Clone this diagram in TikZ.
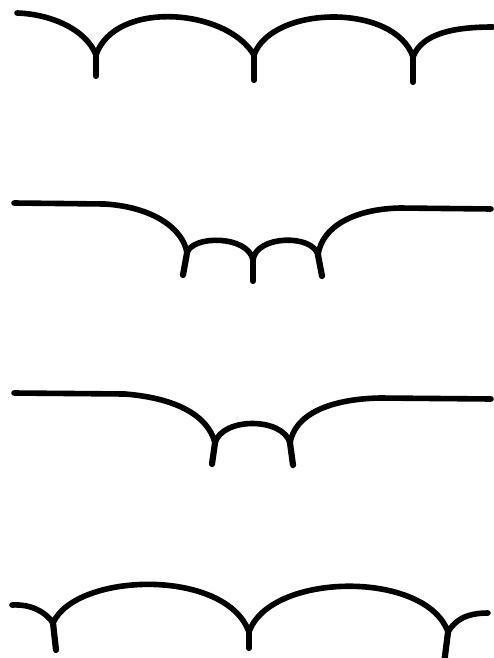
\documentclass[tikz,border=0pt]{standalone}
\usepackage{tikz}

\begin{document}
\begin{tikzpicture}[x=1pt,y=-1pt,
  arche/.style={draw=black, line width=5.6pt, line cap=round, line join=round},
  tige/.style={arche, line width=6.2pt}]
  \useasboundingbox (0,0) rectangle (493,658);
  % rang 1 : trois pointes
  \coordinate (P11) at (96,55);
  \coordinate (P12) at (254,55);
  \coordinate (P13) at (413,57);
  \draw[arche] (17,13) .. controls (50,14) and (86,29) .. (P11)
    .. controls (115,0) and (226,8) .. (P12)
    .. controls (272,5) and (395,3) .. (P13)
    .. controls (422,33) and (455,27) .. (493,27);
  \draw[tige] (P11) -- (96,76);
  \draw[tige] (P12) -- (254,80);
  \draw[tige] (P13) -- (413,82);
  % rang 2 : deux petites arches
  \coordinate (P21) at (187,253);
  \coordinate (P22) at (253,260);
  \coordinate (P23) at (318,255);
  \draw[arche] (14,203) -- (105,204) .. controls (152,207) and (183,228) .. (P21)
    .. controls (192,235) and (248,235) .. (P22)
    .. controls (256,235) and (313,234) .. (P23)
    .. controls (322,226) and (355,209) .. (400,208) -- (491,209);
  \draw[tige] (P21) -- (183,275);
  \draw[tige] (P22) -- (253,281);
  \draw[tige] (P23) -- (322,276);
  % rang 3 : une petite arche
  \coordinate (P31) at (215,443);
  \coordinate (P32) at (290,443);
  \draw[arche] (14,393) -- (125,394) .. controls (175,398) and (208,415) .. (P31)
    .. controls (222,417) and (283,417) .. (P32)
    .. controls (295,414) and (330,399) .. (380,398) -- (491,399);
  \draw[tige] (P31) -- (212,464);
  \draw[tige] (P32) -- (293,465);
  % rang 4 : deux grandes arches
  \coordinate (P41) at (53,623);
  \coordinate (P42) at (249,632);
  \coordinate (P43) at (448,632);
  \draw[arche] (12,605) .. controls (30,604) and (45,611) .. (P41)
    .. controls (76,572) and (226,568) .. (P42)
    .. controls (270,572) and (426,570) .. (P43)
    .. controls (458,615) and (475,613) .. (488,613);
  \draw[tige] (P41) -- (56,650);
  \draw[tige] (P42) -- (249,648);
  \draw[tige] (P43) -- (444,664);
\end{tikzpicture}
\end{document}
